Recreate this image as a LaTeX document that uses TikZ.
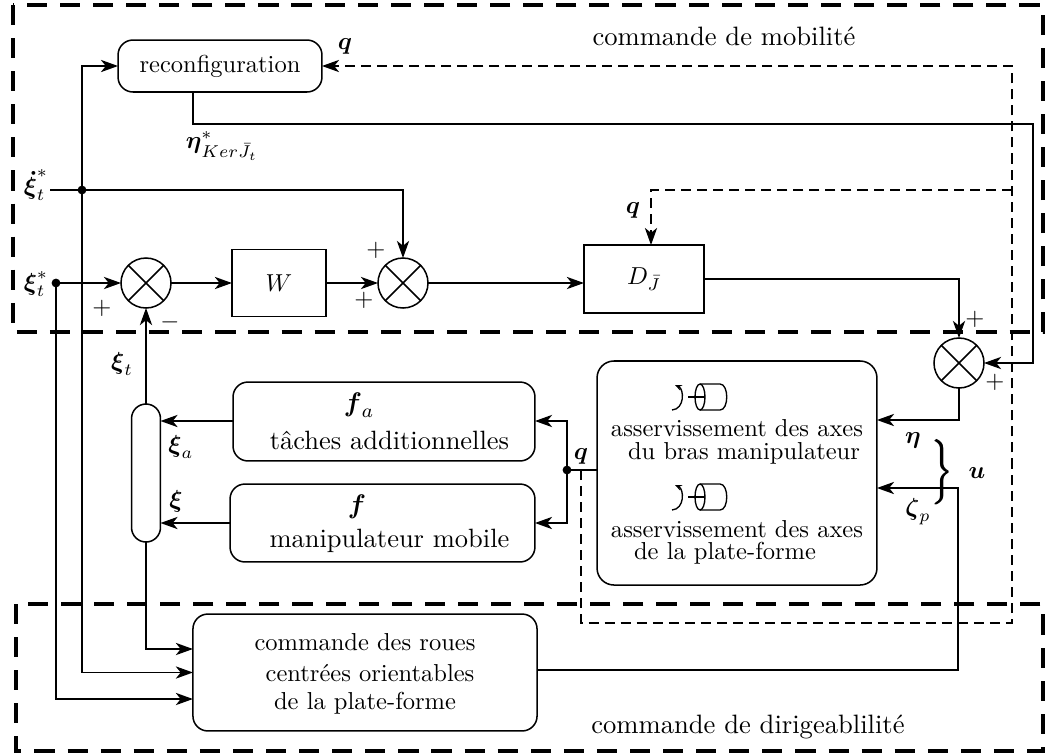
\documentclass[tikz,border=0pt]{standalone}
\usepackage{amsmath}
\usetikzlibrary{arrows.meta}
\begin{document}
\begin{tikzpicture}[x=0.408pt,y=-0.408pt,line width=0.62pt,
  >={Stealth[length=7pt,width=5pt,inset=2pt]},
  box/.style={draw,inner sep=0pt,outer sep=0pt,rounded corners=6.1pt},
  sq/.style={draw,inner sep=0pt,outer sep=0pt},
  sumnode/.style={circle,draw,minimum size=20.4pt,inner sep=0pt,outer sep=0pt,
    path picture={\draw (path picture bounding box.north west) -- (path picture bounding box.south east)
      (path picture bounding box.north east) -- (path picture bounding box.south west);}},
  lbl/.style={inner sep=0pt,outer sep=0pt,font=\fontsize{10}{12}\selectfont},
  biglbl/.style={inner sep=0pt,outer sep=0pt,font=\fontsize{10.8}{13}\selectfont},
  region/.style={inner sep=0pt,outer sep=0pt,font=\fontsize{10.85}{13}\selectfont},
  bigdash/.style={line width=1.5pt,dash pattern=on 8.2pt off 5.3pt},
  qdash/.style={line width=0.5pt,dash pattern=on 4.1pt off 2.45pt},
  motorpic/.pic={
    \draw[line width=0.55pt] (0,0) ellipse [x radius=2.04pt, y radius=5.3pt];
    \draw[line width=0.55pt] (-12,0) -- (5,0);
    \draw[line width=0.55pt] (0,-13) -- (20,-13) .. controls (29,-13) and (29,13) .. (20,13) -- (0,13);
    \draw[line width=0.55pt,-{Stealth[length=2.8pt,width=2.4pt]}] (-28,13) .. controls (-15,12) and (-16,-8) .. (-25,-12);
  }]
\useasboundingbox (0,0) rectangle (1052,754);

% region frames
\draw[bigdash] (13,5) rectangle (1043,332);
\draw[bigdash] (16,604) rectangle (1043,751);
\node[region] (rmob) at (724,36) {commande de mobilité};
\node[region] (rdir) at (748,727) {commande de dirigeablilité};

% blocks
\node[box,minimum width=83.2pt,minimum height=21.2pt,font=\fontsize{10}{12}\selectfont] (recon) at (220,66) {reconfiguration};
\node[sq,minimum width=38.4pt,minimum height=27.3pt,font=\fontsize{10}{12}\selectfont] (W) at (279,283) {$W$};
\node[sq,minimum width=49pt,minimum height=27.7pt,font=\fontsize{10}{12}\selectfont] (D) at (644,279) {$D_{\bar J}$};
\node[sumnode] (s1) at (146,283) {};
\node[sumnode] (s2) at (403,283) {};
\node[sumnode] (s3) at (959,363) {};
\node[box,minimum width=123.2pt,minimum height=32.2pt] (ta) at (384,421.5) {};
\node[box,minimum width=124.4pt,minimum height=31.8pt] (fm) at (382.5,523) {};
\node[box,rounded corners=5.9pt,minimum width=11.8pt,minimum height=56.3pt] (pill) at (146,473) {};
\node[box,rounded corners=6.9pt,minimum width=114.2pt,minimum height=91.4pt] (serv) at (737,473) {};
\node[box,minimum width=140.4pt,minimum height=47.7pt] (wheel) at (365,672.5) {};

% texts in blocks
\node[biglbl] (tfa) at (359,405) {$\boldsymbol{f}_a$};
\node[biglbl] (tta) at (389.5,440) {tâches additionnelles};
\node[biglbl] (tf) at (357,507) {$\boldsymbol{f}$};
\node[biglbl] (tmm) at (389.5,541) {manipulateur mobile};
\node[lbl] (ts1) at (737,428) {asservissement des axes};
\node[lbl] (ts2) at (744,453) {du bras manipulateur};
\node[lbl] (ts3) at (737,529) {asservissement des axes};
\node[lbl] (ts4) at (725,553) {de la plate-forme};
\node[lbl] (tw1) at (365,642) {commande des roues};
\node[lbl] (tw2) at (370,673) {centrées orientables};
\node[lbl] (tw3) at (365,703) {de la plate-forme};
\pic at (700,397) {motorpic};
\pic at (700,497) {motorpic};

% helper coordinates
\coordinate (in1) at (50,190);
\coordinate (j1) at (82,190);
\coordinate (j2) at (56,283);
\coordinate (x193) at (193,0);
\coordinate (x651) at (651,0);
\coordinate (c1) at (1033,124);
\coordinate (c2) at (958,488);
\coordinate (y420) at (0,420);
\coordinate (y421) at (0,421);
\coordinate (y523) at (0,523);
\coordinate (y649) at (0,649);
\coordinate (y670) at (0,670);
\coordinate (y699) at (0,699);
\coordinate (qd) at (581,470);
\coordinate (qc) at (1012,623);
\coordinate (qb) at (1012,190);
\coordinate (jq) at (567,470);

% connectors
\draw (in1) -- (j1);
\draw[->] (j1) -| (s2.north);
\draw[->] (j1) |- (recon.west);
\draw[->] (j1) |- (wheel.west);
\fill (j1) circle (1.8pt);
\draw[->] (j2) -- (s1.west);
\draw[->] (j2) |- (wheel.west |- y699);
\fill (j2) circle (1.8pt);
\draw[->] (s1.east) -- (W.west);
\draw[->] (W.east) -- (s2.west);
\draw[->] (s2.east) -- (s2.east -| D.west);
\draw[->] (D.east) -| (s3.north);
\draw[->] (recon.south -| x193) |- (c1) |- (s3.east);
\draw[->] (s3.south) |- (serv.east |- y420);
\draw[qdash,->] (qd) |- (qc) |- (recon.east);
\draw[qdash,->] (qb) -| (D.north -| x651);
\draw (serv.west |- jq) -- (jq);
\fill (jq) circle (1.8pt);
\draw[->] (jq) |- (ta.east |- y421);
\draw[->] (jq) |- (fm.east |- y523);
\draw[->] (ta.west |- y421) -- (pill.east |- y421);
\draw[->] (fm.west |- y523) -- (pill.east |- y523);
\draw[->] (pill.north) -- (s1.south);
\draw[->] (pill.south) |- (wheel.west |- y649);
\draw[->] (wheel.east |- y670) -| (c2) -- (serv.east |- c2);

% signal labels
\node[lbl] (lxd) at (36,185) {$\boldsymbol{\dot\xi}^*_t$};
\node[lbl] (lxs) at (36,284) {$\boldsymbol{\xi}^*_t$};
\node[lbl] (lxt) at (122,364) {$\boldsymbol{\xi}_t$};
\node[lbl] (lxa) at (181,447) {$\boldsymbol{\xi}_a$};
\node[lbl] (lx) at (176,501) {$\boldsymbol{\xi}$};
\node[lbl] (lq1) at (345,46) {$\boldsymbol{q}$};
\node[lbl] (lq2) at (633,210) {$\boldsymbol{q}$};
\node[lbl] (lq3) at (581,456) {$\boldsymbol{q}$};
\node[lbl] (leta) at (222,146) {$\boldsymbol{\eta}^*_{Ker\bar{J}_t}$};
\node[lbl] (le) at (913,440) {$\boldsymbol{\eta}$};
\node[lbl] (lz) at (918,512) {$\boldsymbol{\zeta}_p$};
\node[lbl] (lu) at (977,473) {$\boldsymbol{u}$};
\node[inner sep=0pt,outer sep=0pt,font=\fontsize{11}{13}\selectfont] (br) at (943,472) {$\pmb{\bigg\}}$};
\node[lbl] (p1) at (102,308) {$+$};
\node[lbl] (m1) at (170,322) {$-$};
\node[lbl] (p2) at (376,250) {$+$};
\node[lbl] (p3) at (364,300) {$+$};
\node[lbl] (p4) at (975,319) {$+$};
\node[lbl] (p5) at (995,382) {$+$};
\end{tikzpicture}
\end{document}
